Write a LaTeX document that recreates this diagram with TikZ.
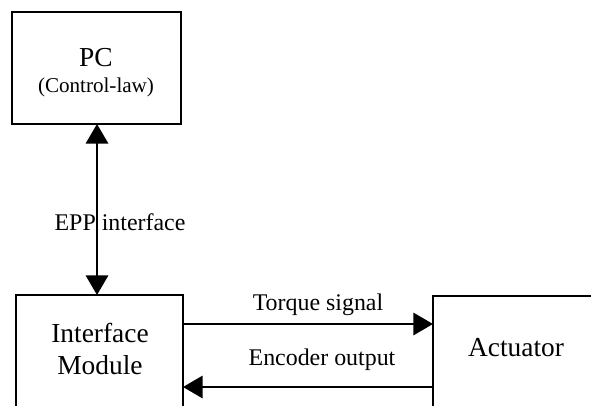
\documentclass[tikz,border=0pt]{standalone}
\usepackage{fontspec}
\setmainfont{Liberation Serif}
\usetikzlibrary{arrows.meta}

\begin{document}
\begin{tikzpicture}[x=0.025cm,y=-0.025cm]

\tikzstyle{block} = [draw, line width=1.4pt, inner sep=0, outer sep=0]
\tikzstyle{big} = [font=\fontsize{19.5}{22.8}\selectfont]
\tikzstyle{small} = [font=\fontsize{15}{18}\selectfont]
\tikzstyle{lbl} = [font=\fontsize{17}{20}\selectfont]
\tikzstyle{link} = [line width=1.4pt, -{Triangle[length=14pt,width=16pt]}]

\useasboundingbox (0,0) rectangle (591,406);
\clip (0,0) rectangle (591,406);

% boxes
\node [block, minimum width=4.225cm, minimum height=2.8cm] (pc) at (96.5,68) {};
\node [block, minimum width=4.175cm, minimum height=4cm] (imod) at (99.5,375) {};
\node [block, minimum width=5.175cm, minimum height=4cm] (act) at (536.5,376) {};

% box texts
\node [big] (pcname) at (96,58) {PC};
\node [small] (pclaw) at (96,87) {(Control-law)};
\node [big, align=center] (imodname) at (100,349) {Interface\\Module};
\node [big] (actname) at (516,348) {Actuator};

% link labels
\node [lbl] (epp) at (120,222) {EPP interface};
\node [lbl] (torque) at (318,305) {Torque signal};
\node [lbl] (encoder) at (322,360) {Encoder output};

% links
\coordinate (eppx) at (97,0);
\coordinate (tq) at (0,324);
\coordinate (enc) at (0,387);

\draw[link, {Triangle[length=14pt,width=16pt]}-{Triangle[length=14pt,width=16pt]}] (pc.south -| eppx) -- (imod.north -| eppx);
\draw[link] (imod.east |- tq) -- (act.west |- tq);
\draw[link] (act.west |- enc) -- (imod.east |- enc);

\end{tikzpicture}
\end{document}
